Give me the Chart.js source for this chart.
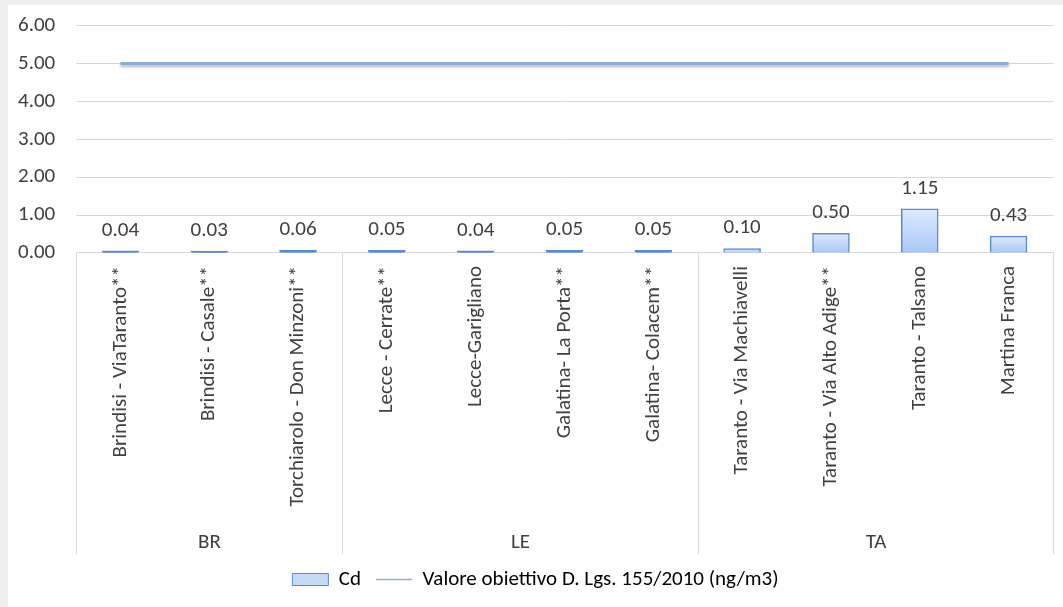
<!DOCTYPE html>
<html>
<head>
<meta charset="utf-8">
<script src="https://cdn.jsdelivr.net/npm/chart.js@4/dist/chart.umd.min.js"></script>
<style>
    html, body { margin: 0; padding: 0; background: #efefef; }
    #wrap { position: absolute; left: 8px; top: 5px; width: 1055px; height: 602px; background: #fff; }
</style>
</head>
<body>
<div id="wrap"><canvas id="cdChart" width="1055" height="602"></canvas></div>
<script>
const stations = [
    'Brindisi - ViaTaranto**', 'Brindisi - Casale**', 'Torchiarolo - Don Minzoni**',
    'Lecce - Cerrate**', 'Lecce-Garigliano', 'Galatina- La Porta**', 'Galatina- Colacem**',
    'Taranto - Via Machiavelli', 'Taranto - Via Alto Adige**', 'Taranto - Talsano', 'Martina Franca'
];
const cdValues = [0.04, 0.03, 0.06, 0.05, 0.04, 0.05, 0.05, 0.10, 0.50, 1.15, 0.43];
const targetValues = [5, 5, 5, 5, 5, 5, 5, 5, 5, 5, 5];
const groupNames = ['BR', 'LE', 'TA'];
const groupSizes = [3, 4, 4];
const yTicks = [0, 1, 2, 3, 4, 5, 6];

const FONT = 'Carlito, Lato, sans-serif';
const FSIZE = 21;
const TEXT = '#404040';
const GRID = '#d9d9d9';
const BAR_EDGE = '#5a8ad2';

// value labels above the bars
const barLabels = {
    id: 'barLabels',
    afterDatasetsDraw(chart) {
        const ctx = chart.ctx;
        const meta = chart.getDatasetMeta(0);
        ctx.save();
        ctx.font = FSIZE + 'px ' + FONT;
        ctx.fillStyle = TEXT;
        ctx.textAlign = 'center';
        ctx.textBaseline = 'middle';
        meta.data.forEach((el, i) => {
            ctx.fillText(cdValues[i].toFixed(2), el.x, el.y - 21);
        });
        ctx.restore();
    }
};

// second level of the category axis: province groups
const groupAxis = {
    id: 'groupAxis',
    afterDraw(chart) {
        const ctx = chart.ctx;
        const x = chart.scales.x;
        const top = chart.chartArea.bottom;
        const bottom = x.bottom;
        const step = x.width / stations.length;
        ctx.save();
        ctx.strokeStyle = GRID;
        ctx.lineWidth = 1;
        ctx.font = FSIZE + 'px ' + FONT;
        ctx.fillStyle = TEXT;
        ctx.textAlign = 'center';
        ctx.textBaseline = 'middle';
        let start = 0;
        const edge = i => Math.round(x.getPixelForValue(i) - step / 2) + 0.5;
        ctx.beginPath();
        ctx.moveTo(edge(0), top);
        ctx.lineTo(edge(0), bottom);
        groupSizes.forEach((n, g) => {
            const end = start + n;
            const right = edge(end);
            ctx.moveTo(right, top);
            ctx.lineTo(right, bottom);
            ctx.fillText(groupNames[g], (edge(start) + right) / 2, bottom - 11);
            start = end;
        });
        ctx.stroke();
        ctx.restore();
    }
};

// soft shadow under the target line
const lineShadow = {
    id: 'lineShadow',
    beforeDatasetDraw(chart, args) {
        if (args.index !== 1) return;
        const ctx = chart.ctx;
        ctx.save();
        ctx.shadowColor = 'rgba(0,0,0,0.3)';
        ctx.shadowBlur = 3;
        ctx.shadowOffsetY = 2;
    },
    afterDatasetDraw(chart, args) {
        if (args.index !== 1) return;
        chart.ctx.restore();
    }
};

const ctx = document.getElementById('cdChart').getContext('2d');
const config = {
    type: 'bar',
    data: {
        labels: stations,
        datasets: [
            {
                label: 'Cd',
                data: cdValues,
                backgroundColor: function (context) {
                    const chart = context.chart;
                    const y = chart.scales.y;
                    if (!y || context.parsed === undefined) return '#c6d9f7';
                    const top = y.getPixelForValue(context.parsed.y);
                    const bottom = y.getPixelForValue(0);
                    // very short bars show only their outline
                    if (!isFinite(top) || bottom - top < 3) return BAR_EDGE;
                    const g = chart.ctx.createLinearGradient(0, top, 0, bottom);
                    g.addColorStop(0, '#dee9fd');
                    g.addColorStop(1, '#a8c7f7');
                    return g;
                },
                borderColor: BAR_EDGE,
                borderWidth: 1.5,
                inflateAmount: 1,
                categoryPercentage: 1,
                barPercentage: 0.4,
                order: 2
            },
            {
                type: 'line',
                label: 'Valore obiettivo D. Lgs. 155/2010 (ng/m3)',
                data: targetValues,
                borderColor: '#8faadc',
                backgroundColor: '#8faadc',
                borderWidth: 3,
                pointRadius: 0,
                pointHoverRadius: 0,
                fill: false,
                order: 1
            }
        ]
    },
    options: {
        responsive: false,
        animation: false,
        layout: {
            padding: { top: 0, right: 10, left: 10, bottom: 7 }
        },
        scales: {
            y: {
                min: 0,
                max: 6,
                afterBuildTicks: scale => { scale.ticks = yTicks.map(v => ({ value: v })); },
                afterFit: scale => { scale.width = 58; },
                ticks: {
                    color: TEXT,
                    font: { family: FONT, size: FSIZE },
                    padding: 8,
                    crossAlign: 'far',
                    callback: v => Number(v).toFixed(2)
                },
                grid: { color: GRID, drawTicks: false },
                border: { display: false }
            },
            x: {
                afterFit: scale => { scale.height = 301; },
                ticks: {
                    color: TEXT,
                    font: { family: FONT, size: FSIZE },
                    minRotation: 90,
                    maxRotation: 90,
                    autoSkip: false,
                    padding: 5
                },
                grid: { display: false },
                border: { color: GRID }
            }
        },
        plugins: {
            legend: {
                display: true,
                position: 'bottom',
                onClick: null,
                labels: {
                    color: TEXT,
                    font: { family: FONT, size: FSIZE },
                    usePointStyle: true,
                    boxHeight: 12,
                    pointStyleWidth: 36,
                    padding: 15,
                    generateLabels: () => [
                        { text: 'Cd', pointStyle: 'rect', fillStyle: '#c6d9f7', strokeStyle: BAR_EDGE, lineWidth: 1, datasetIndex: 0 },
                        { text: 'Valore obiettivo D. Lgs. 155/2010 (ng/m3)', pointStyle: 'line', fillStyle: '#8faadc', strokeStyle: '#8faadc', lineWidth: 1.5, datasetIndex: 1 }
                    ]
                }
            },
            tooltip: { enabled: false }
        }
    },
    plugins: [barLabels, groupAxis, lineShadow]
};
const cdChart = new Chart(ctx, config);
</script>
</body>
</html>
